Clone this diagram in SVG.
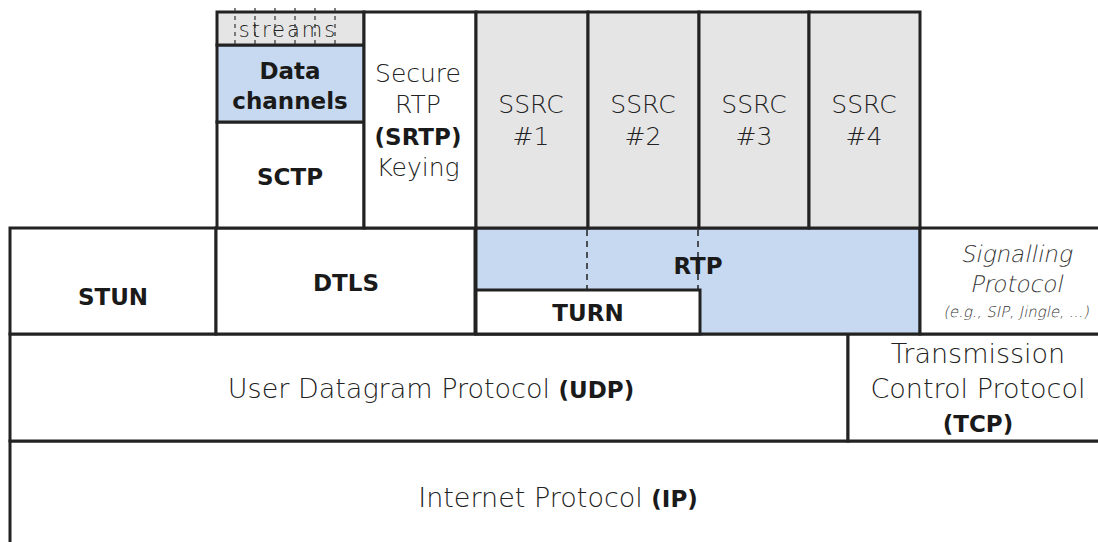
<svg xmlns="http://www.w3.org/2000/svg" width="1098" height="542" viewBox="0 0 1098 542">
  <style>
    .box { stroke: #222; stroke-width: 3; }
    .white { fill: #ffffff; }
    .gray { fill: #e5e5e5; }
    .blue { fill: #c6d9f0; }
    .dash { stroke: #222; stroke-width: 1.5; stroke-dasharray: 6 5; fill: none; }
    .tick { stroke: #333; stroke-width: 1.2; stroke-dasharray: 4 4; fill: none; }
    text { font-family: "DejaVu Sans ExtraLight", "DejaVu Sans", sans-serif; font-weight: 200; fill: #222; text-anchor: middle; }
    .lt { font-size: 25px; }
    .big { font-size: 27px; }
    .bd { font-family: "DejaVu Sans", sans-serif; font-weight: 700; font-size: 23px; fill: #1a1a1a; }
    .it { font-size: 23px; fill: #333; }
    .sm { font-size: 15px; fill: #333; }
  </style>
  <rect width="1098" height="542" fill="#ffffff"/>

  <!-- Internet Protocol -->
  <g id="ip">
    <rect class="box white" x="10" y="441" width="1100" height="120"/>
    <text class="big" x="558" y="507">Internet Protocol <tspan class="bd" font-size="27">(IP)</tspan></text>
  </g>

  <!-- UDP -->
  <g id="udp">
    <rect class="box white" x="10" y="334" width="838" height="107"/>
    <text class="big" x="431" y="398">User Datagram Protocol <tspan class="bd" font-size="27">(UDP)</tspan></text>
  </g>

  <!-- TCP -->
  <g id="tcp">
    <rect class="box white" x="848" y="334" width="260" height="107"/>
    <text class="big" x="978" y="363">Transmission</text>
    <text class="big" x="978" y="398">Control Protocol</text>
    <text class="bd" x="978" y="432" font-size="26">(TCP)</text>
  </g>

  <!-- STUN -->
  <g id="stun">
    <rect class="box white" x="10" y="228" width="206" height="106"/>
    <text class="bd" x="113" y="305">STUN</text>
  </g>

  <!-- DTLS -->
  <g id="dtls">
    <rect class="box white" x="216" y="228" width="259" height="106"/>
    <text class="bd" x="346" y="291">DTLS</text>
  </g>

  <!-- RTP with TURN -->
  <g id="rtp">
    <rect class="box blue" x="476" y="228" width="444" height="106"/>
    <line class="dash" x1="587" y1="230" x2="587" y2="290"/>
    <line class="dash" x1="698" y1="230" x2="698" y2="290"/>
    <text class="bd" x="698" y="274" font-size="26">RTP</text>
  </g>
  <g id="turn">
    <rect class="box white" x="476" y="290" width="224" height="44"/>
    <text class="bd" x="588" y="321">TURN</text>
  </g>

  <!-- Signalling (slanted light text) -->
  <g id="signalling">
    <rect class="box white" x="920" y="228" width="190" height="106"/>
    <g transform="skewX(-12)">
      <text class="it" x="1071.7" y="262">Signalling</text>
      <text class="it" x="1078.1" y="292">Protocol</text>
      <text class="sm" x="1083.4" y="317">(e.g., SIP, Jingle, ...)</text>
    </g>
  </g>

  <!-- SCTP stack -->
  <g id="sctp">
    <rect class="box white" x="217" y="122" width="147" height="106"/>
    <text class="bd" x="290" y="185" font-size="24">SCTP</text>
  </g>
  <g id="datachannels">
    <rect class="box blue" x="217" y="45" width="147" height="77"/>
    <text class="bd" x="290" y="79" font-size="25">Data</text>
    <text class="bd" x="290" y="109" font-size="25">channels</text>
  </g>
  <g id="streams">
    <rect class="box gray" x="217" y="12" width="147" height="33"/>
    <line class="tick" x1="235" y1="8" x2="235" y2="47"/>
    <line class="tick" x1="255" y1="8" x2="255" y2="47"/>
    <line class="tick" x1="275" y1="8" x2="275" y2="47"/>
    <line class="tick" x1="295" y1="8" x2="295" y2="47"/>
    <line class="tick" x1="315" y1="8" x2="315" y2="47"/>
    <line class="tick" x1="335" y1="8" x2="335" y2="47"/>
    <text x="288" y="37" font-size="21" letter-spacing="2">streams</text>
  </g>

  <!-- SRTP keying -->
  <g id="srtp">
    <rect class="box white" x="364" y="12" width="112" height="216"/>
    <text class="lt" x="418" y="82">Secure</text>
    <text class="lt" x="418" y="113">RTP</text>
    <text class="bd" x="418" y="145">(SRTP)</text>
    <text class="lt" x="418" y="176">Keying</text>
  </g>

  <!-- SSRC columns -->
  <g id="ssrc1">
    <rect class="box gray" x="476" y="12" width="112" height="216"/>
    <text class="lt" x="531" y="113">SSRC</text>
    <text class="lt" x="531" y="145">#1</text>
  </g>
  <g id="ssrc2">
    <rect class="box gray" x="588" y="12" width="111" height="216"/>
    <text class="lt" x="643" y="113">SSRC</text>
    <text class="lt" x="643" y="145">#2</text>
  </g>
  <g id="ssrc3">
    <rect class="box gray" x="699" y="12" width="110" height="216"/>
    <text class="lt" x="754" y="113">SSRC</text>
    <text class="lt" x="754" y="145">#3</text>
  </g>
  <g id="ssrc4">
    <rect class="box gray" x="809" y="12" width="111" height="216"/>
    <text class="lt" x="864" y="113">SSRC</text>
    <text class="lt" x="864" y="145">#4</text>
  </g>

  <g id="connectors"></g>
</svg>
